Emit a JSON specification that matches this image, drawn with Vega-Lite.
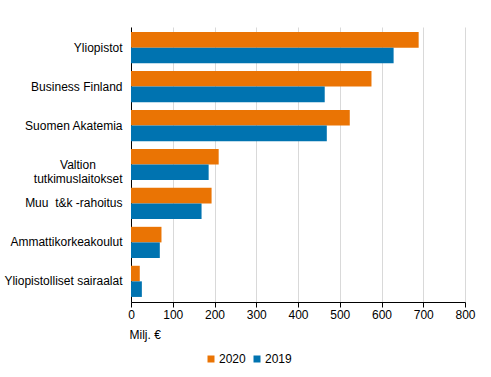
{
  "$schema": "https://vega.github.io/schema/vega-lite/v6.json",
  "autosize": {"type": "none"},
  "width": 334,
  "height": 275,
  "padding": {"left": 131, "top": 27, "right": 26, "bottom": 75},
  "background": "white",
  "config": {
    "view": {"stroke": null},
    "font": "Liberation Sans",
    "axis": {"labelFont": "Liberation Sans", "titleFont": "Liberation Sans", "labelColor": "#000000", "titleColor": "#000000"},
    "legend": {"labelFont": "Liberation Sans"}
  },
  "data": {
    "values": [
      {"sektori": "Yliopistot", "vuosi": "2020", "arvo": 689},
      {"sektori": "Yliopistot", "vuosi": "2019", "arvo": 629},
      {"sektori": "Business Finland", "vuosi": "2020", "arvo": 576},
      {"sektori": "Business Finland", "vuosi": "2019", "arvo": 464},
      {"sektori": "Suomen Akatemia", "vuosi": "2020", "arvo": 524},
      {"sektori": "Suomen Akatemia", "vuosi": "2019", "arvo": 469},
      {"sektori": "Valtion tutkimuslaitokset", "vuosi": "2020", "arvo": 210},
      {"sektori": "Valtion tutkimuslaitokset", "vuosi": "2019", "arvo": 186},
      {"sektori": "Muu  t&k -rahoitus", "vuosi": "2020", "arvo": 193},
      {"sektori": "Muu  t&k -rahoitus", "vuosi": "2019", "arvo": 169},
      {"sektori": "Ammattikorkeakoulut", "vuosi": "2020", "arvo": 73},
      {"sektori": "Ammattikorkeakoulut", "vuosi": "2019", "arvo": 69},
      {"sektori": "Yliopistolliset sairaalat", "vuosi": "2020", "arvo": 21},
      {"sektori": "Yliopistolliset sairaalat", "vuosi": "2019", "arvo": 26}
    ]
  },
  "mark": {"type": "bar"},
  "encoding": {
    "y": {
      "field": "sektori",
      "type": "nominal",
      "sort": null,
      "scale": {"paddingInner": 0.2, "paddingOuter": 0.13},
      "axis": {
        "title": null,
        "ticks": false,
        "domain": true,
        "domainColor": "#000000",
        "labelFontSize": 12,
        "labelPadding": 9,
        "labelLimit": 200,
        "labelExpr": "datum.label == 'Valtion tutkimuslaitokset' ? ['Valtion\u00a0\u00a0\u00a0\u00a0\u00a0\u00a0\u00a0\u00a0\u200b', 'tutkimuslaitokset'] : replace(datum.label, '  ', ' \u00a0')"
      }
    },
    "yOffset": {"field": "vuosi", "type": "nominal", "sort": ["2020", "2019"]},
    "x": {
      "field": "arvo",
      "type": "quantitative",
      "scale": {"domain": [0, 800], "nice": false},
      "axis": {
        "title": "Milj. €",
        "titleFontSize": 12,
        "titleFontWeight": "normal",
        "titleAnchor": "start",
        "titleAlign": "left",
        "titleBaseline": "alphabetic",
        "titleX": -2,
        "titleY": 36,
        "values": [0, 100, 200, 300, 400, 500, 600, 700, 800],
        "labelFontSize": 12,
        "labelFlush": false,
        "tickColor": "#000000",
        "tickSize": 5,
        "domainColor": "#000000",
        "grid": true,
        "gridColor": "#d9d9d9",
        "labelPadding": 2
      }
    },
    "color": {
      "field": "vuosi",
      "type": "nominal",
      "scale": {"domain": ["2020", "2019"], "range": ["#ea7404", "#0073b0"]},
      "legend": {
        "title": null,
        "orient": "none",
        "direction": "horizontal",
        "legendX": 74,
        "legendY": 326,
        "symbolType": "square",
        "symbolSize": 49,
        "symbolStrokeWidth": 0,
        "labelFontSize": 12,
        "labelColor": "#000000",
        "columnPadding": 5,
        "labelOffset": 2
      }
    }
  }
}
